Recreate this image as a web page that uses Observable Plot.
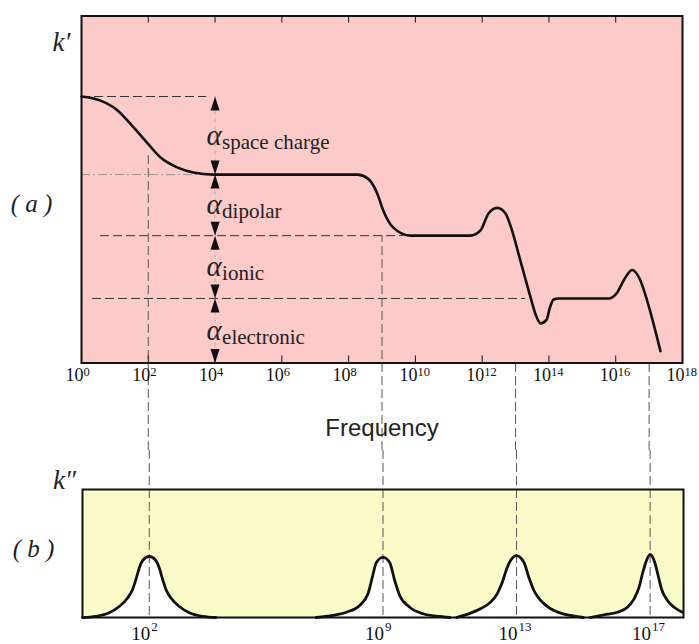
<!DOCTYPE html>
<html>
<head>
<meta charset="utf-8">
<script src="https://cdn.jsdelivr.net/npm/d3@7"></script>
<script src="https://cdn.jsdelivr.net/npm/@observablehq/plot@0.6"></script>
<style>
  html, body { margin: 0; padding: 0; background: white; }
  #chart { position: relative; width: 699px; height: 644px; background: white; overflow: hidden; }
  #chart svg { position: absolute; left: 0; }
</style>
</head>
<body>
<div id="chart"></div>
<script>
// ---------- data ----------
// (a) real part k' versus log10(frequency), relative units
const kpExp = [0, 0.57, 1.08, 1.56, 1.98, 2.37, 2.88, 3.35, 3.95, 8.27, 8.57, 8.86, 9.04, 9.34, 9.85, 11.65, 11.95, 12.19, 12.45, 12.70, 12.85, 13.15, 13.45, 13.6, 13.75, 13.93, 14.02, 14.14, 14.29, 15.8, 16.05, 16.25, 16.49, 16.72, 16.94, 17.34];
const kpVal = [76.8, 75.6, 72.8, 67.9, 63.3, 59.2, 56.3, 54.9, 54.3, 54.3, 53.2, 48.8, 43.9, 39.0, 36.7, 36.7, 38.2, 43.1, 44.7, 43.1, 39.5, 29.3, 18.9, 14.0, 11.4, 12.5, 15.7, 18.3, 18.6, 18.6, 20.4, 24.0, 26.8, 24.2, 18.0, 3.4];

// polarization levels (top of each contribution) and names
const levels = [76.8, 54.3, 36.7, 18.6, 0];
const bandNames = ["space charge", "dipolar", "ionic", "electronic"];
const arrowExp = 4;

// dashed reference levels: value, start and end (log10 f)
const refLevel = [76.8, 36.7, 18.6];
const refFrom = [0, 0.57, 0.33];
const refTo = [3.75, 9.65, 13.3];
const faintLevel = [54.3];
const faintFrom = [0];
const faintTo = [4];

// relaxation frequencies (log10 f) and where their guide lines start in (a)
const relaxExp = [2, 9, 13, 17];
const relaxStart = [60, 36.7, 0, 0];

// tick exponents for the frequency axis
const tickExp = [0, 2, 4, 6, 8, 10, 12, 14, 16, 18];

// (b) loss peaks k'' : log10 f and relative height
const peakA_exp = [0.0, 0.4, 0.8, 1.1, 1.35, 1.5, 1.6, 1.7, 1.8, 2.0, 2.2, 2.3, 2.4, 2.5, 2.65, 2.9, 3.2, 3.6, 4.0];
const peakA_val = [0, 0.9, 3.7, 8.6, 15.2, 21.9, 29.7, 38.7, 44.5, 47.7, 44.5, 38.7, 29.7, 21.9, 15.2, 8.6, 3.7, 0.9, 0];
const peakB_exp = [7.0, 7.5, 7.9, 8.3, 8.55, 8.68, 8.8, 9.0, 9.2, 9.35, 9.5, 9.8, 10.2, 10.7, 11.0];
const peakB_val = [0, 1.6, 4.1, 9.4, 18.5, 31.3, 43.0, 46.9, 43.0, 28.9, 17.2, 8.0, 2.9, 0.8, 0];
const peakC_exp = [11.2, 11.62, 11.92, 12.22, 12.42, 12.57, 12.72, 12.82, 13.0, 13.22, 13.37, 13.52, 13.72, 14.02, 14.32, 14.62, 15.0];
const peakC_val = [0, 3.4, 6.8, 12.0, 18.5, 27.3, 39.1, 44.5, 48.4, 43.0, 31.3, 21.1, 13.3, 6.8, 3.4, 1.6, 0];
const peakD_exp = [15.2, 15.62, 16.02, 16.32, 16.52, 16.67, 16.77, 16.87, 17.0, 17.14, 17.24, 17.34, 17.52, 17.72, 17.97];
const peakD_val = [0, 2.1, 4.1, 8.0, 14.6, 23.7, 34.1, 43.0, 49.2, 43.0, 32.8, 22.4, 13.3, 8.0, 4.1];

// ---------- styling ----------
const PINK = "#fdcaca";
const YELLOW = "#fbfbc9";
const SERIF = "'Liberation Serif', 'Times New Roman', serif";
const SANS = "'Liberation Sans', Arial, sans-serif";

const upArrow = { draw(ctx) { ctx.moveTo(0, 0); ctx.lineTo(4.5, 14); ctx.lineTo(-4.5, 14); ctx.closePath(); } };
const downArrow = { draw(ctx) { ctx.moveTo(0, 0); ctx.lineTo(4.5, -14); ctx.lineTo(-4.5, -14); ctx.closePath(); } };

const kp = kpExp.map((e, i) => ({ f: 10 ** e, v: kpVal[i] }));
const bands = bandNames.map((name, i) => ({ name, mid: (levels[i] + levels[i + 1]) / 2 }));
const ticks = tickExp.map(e => ({ f: 10 ** e, e }));
const relax = relaxExp.map((e, i) => ({ f: 10 ** e, e, start: relaxStart[i] }));
const refs = refLevel.map((v, i) => ({ v, a: 10 ** refFrom[i], b: 10 ** refTo[i] }));
const faint = faintLevel.map((v, i) => ({ v, a: 10 ** faintFrom[i], b: 10 ** faintTo[i] }));
const peaks = [];
[[peakA_exp, peakA_val, "A"], [peakB_exp, peakB_val, "B"], [peakC_exp, peakC_val, "C"], [peakD_exp, peakD_val, "D"]]
  .forEach(([ex, va, k]) => ex.forEach((e, i) => peaks.push({ f: 10 ** e, v: va[i], k })));

// ---------- (a) ----------
const topPlot = Plot.plot({
  width: 699, height: 450,
  marginTop: 15.5, marginBottom: 87.5, marginLeft: 81, marginRight: 17,
  x: { type: "log", domain: [1, 1e18], axis: null },
  y: { domain: [0, 100], axis: null },
  style: { fontFamily: SERIF, background: "transparent", overflow: "visible", color: "#111" },
  marks: [
    Plot.frame({ fill: PINK, stroke: null }),
    Plot.ruleY(faint, { y: "v", x1: "a", x2: "b", stroke: "#777", strokeOpacity: 0.7, strokeDasharray: "9,3,2,3" }),
    Plot.ruleY(refs, { y: "v", x1: "a", x2: "b", stroke: "#333", strokeWidth: 1, strokeDasharray: "9,4" }),
    Plot.ruleX([10 ** arrowExp], { x: d => d, y1: levels[4], y2: levels[0], stroke: "#888", strokeOpacity: 0.5, strokeDasharray: "4,4" }),
    Plot.ruleX(relax, { x: "f", y1: 0, y2: "start", insetTop: 87.5, stroke: "#555", strokeWidth: 1, strokeDasharray: "9,4" }),
    Plot.line(kp, { x: "f", y: "v", curve: "monotone-x", stroke: "#111", strokeWidth: 2.6 }),
    Plot.dot(levels.slice(0, 4), { x: () => 10 ** arrowExp, y: d => d, symbol: upArrow, fill: "#111", stroke: null }),
    Plot.dot(levels.slice(1), { x: () => 10 ** arrowExp, y: d => d, symbol: downArrow, fill: "#111", stroke: null }),
    Plot.text(bands, { x: () => 10 ** arrowExp, y: "mid", text: () => "α", fontFamily: SERIF, fontStyle: "italic", fontSize: 29, textAnchor: "middle", dx: -1, dy: 0, fill: "#222" }),
    Plot.text(bands, { x: () => 10 ** arrowExp, y: "mid", text: "name", fontFamily: SERIF, fontSize: 21, textAnchor: "start", lineAnchor: "bottom", dx: 7, dy: 13, fill: "#222" }),
    Plot.tickX(ticks, { x: "f", insetTop: 340, stroke: "#111", strokeWidth: 1 }),
    Plot.tickX(ticks, { x: "f", insetBottom: 340, stroke: "#111", strokeWidth: 1 }),
    Plot.text(ticks, { x: "f", text: () => "10", fontFamily: SERIF, frameAnchor: "bottom", lineAnchor: "bottom", textAnchor: "end", dx: 2, dy: 17.5, fontSize: 18, fill: "#111" }),
    Plot.text(ticks, { x: "f", text: d => String(d.e), fontFamily: SERIF, frameAnchor: "bottom", lineAnchor: "bottom", textAnchor: "start", dx: 2, dy: 12.5, fontSize: 12.5, fill: "#111" }),
    Plot.text(["Frequency"], { frameAnchor: "bottom", lineAnchor: "bottom", textAnchor: "middle", dy: 72.5, fontFamily: SANS, fontSize: 24, fill: "#222" }),
    Plot.text(["k′"], { frameAnchor: "top-left", lineAnchor: "bottom", textAnchor: "middle", dx: -20, dy: 34.5, fontFamily: SERIF, fontStyle: "italic", fontSize: 27, fill: "#222" }),
    Plot.text(["( a )"], { frameAnchor: "top-left", lineAnchor: "bottom", textAnchor: "middle", dx: -50, dy: 196, fontFamily: SERIF, fontStyle: "italic", fontSize: 25, fill: "#222" }),
    Plot.frame({ stroke: "#111", strokeWidth: 2 })
  ]
});

// ---------- (b) ----------
const bottomPlot = Plot.plot({
  width: 699, height: 194,
  marginTop: 39, marginBottom: 27, marginLeft: 82, marginRight: 16,
  x: { type: "log", domain: [1, 1e18], axis: null },
  y: { domain: [0, 100], axis: null },
  style: { fontFamily: SERIF, background: "transparent", overflow: "visible", color: "#111" },
  marks: [
    Plot.frame({ fill: YELLOW, stroke: null }),
    Plot.areaY(peaks, { x: "f", y: "v", z: "k", fill: "white", curve: "monotone-x" }),
    Plot.ruleX(relax, { x: "f", insetTop: -39, stroke: "#555", strokeWidth: 1, strokeDasharray: "9,4" }),
    Plot.line(peaks, { x: "f", y: "v", z: "k", stroke: "#111", strokeWidth: 2.8, curve: "monotone-x" }),
    Plot.text(relax, { x: "f", text: () => "10", fontFamily: SERIF, frameAnchor: "bottom", lineAnchor: "bottom", textAnchor: "end", dx: 1, dy: 22, fontSize: 19, fill: "#111" }),
    Plot.text(relax, { x: "f", text: d => String(d.e), fontFamily: SERIF, frameAnchor: "bottom", lineAnchor: "bottom", textAnchor: "start", dx: 2, dy: 13, fontSize: 13, fill: "#111" }),
    Plot.text(["k″"], { frameAnchor: "top-left", lineAnchor: "bottom", textAnchor: "middle", dx: -18, dy: -1, fontFamily: SERIF, fontStyle: "italic", fontSize: 27, fill: "#222" }),
    Plot.text(["( b )"], { frameAnchor: "top-left", lineAnchor: "bottom", textAnchor: "middle", dx: -49, dy: 67, fontFamily: SERIF, fontStyle: "italic", fontSize: 25, fill: "#222" }),
    Plot.frame({ stroke: "#111", strokeWidth: 2 })
  ]
});

const chart = document.getElementById("chart");
topPlot.style.top = "0px";
bottomPlot.style.top = "450px";
chart.appendChild(topPlot);
chart.appendChild(bottomPlot);
</script>
</body>
</html>
